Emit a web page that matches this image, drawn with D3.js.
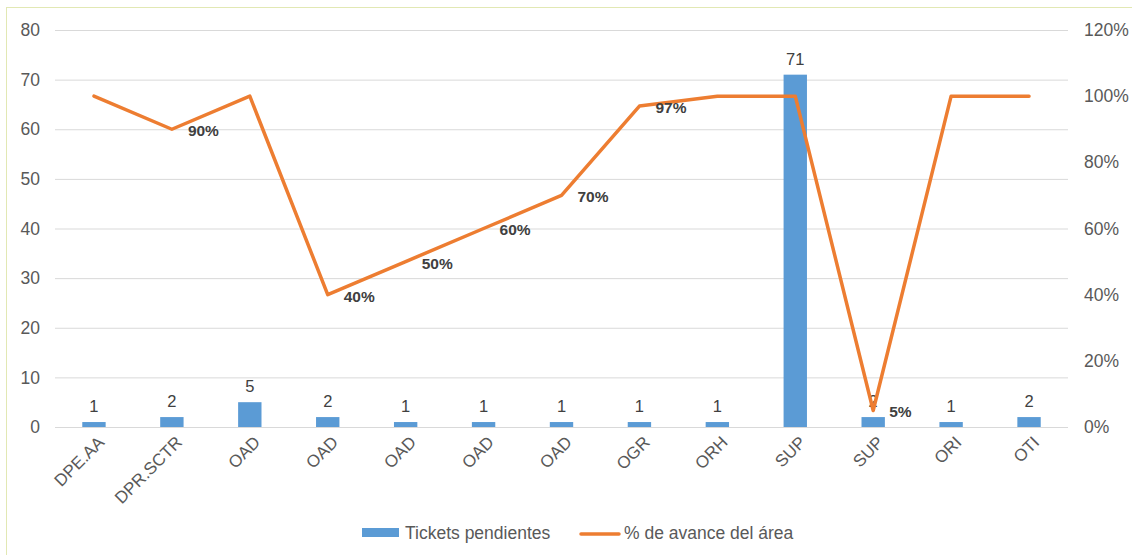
<!DOCTYPE html>
<html>
<head>
<meta charset="utf-8">
<script src="https://cdn.jsdelivr.net/npm/d3@7"></script>
<style>
  body { margin: 0; background: #fff; }
  svg { display: block; font-family: "Liberation Sans", Arial, sans-serif; }
</style>
</head>
<body>
<div id="chart"></div>
<script>
// Data
const categories = ['DPE.AA', 'DPR.SCTR', 'OAD', 'OAD', 'OAD', 'OAD', 'OAD', 'OGR', 'ORH', 'SUP', 'SUP', 'ORI', 'OTI'];
const tickets = [1, 2, 5, 2, 1, 1, 1, 1, 1, 71, 2, 1, 2];
const avance = [1.00, 0.90, 1.00, 0.40, 0.50, 0.60, 0.70, 0.97, 1.00, 1.00, 0.05, 1.00, 1.00];
const leftTicks = [0, 10, 20, 30, 40, 50, 60, 70, 80];
const rightTicks = [0, 0.2, 0.4, 0.6, 0.8, 1.0, 1.2];

const width = 1132, height = 555;
const margin = { top: 30, right: 64, bottom: 128, left: 55 };

const svg = d3.select('#chart').append('svg')
    .attr('width', width)
    .attr('height', height);

// chart frame (only top/left visible in the picture)
svg.append('rect')
    .attr('x', 6.5).attr('y', 7.5)
    .attr('width', width + 20).attr('height', height + 20)
    .attr('fill', 'none')
    .attr('stroke', '#e2e8b4');

const x = d3.scaleBand()
    .domain(d3.range(categories.length))
    .range([margin.left, width - margin.right])
    .paddingInner(0.7).paddingOuter(0.35);

const xc = i => x(i) + x.bandwidth() / 2;

const y = d3.scaleLinear().domain([0, 80]).range([height - margin.bottom, margin.top]);
const y2 = d3.scaleLinear().domain([0, 1.2]).range([height - margin.bottom, margin.top]);

// gridlines
svg.append('g')
    .selectAll('line')
    .data(leftTicks)
    .join('line')
    .attr('x1', margin.left).attr('x2', width - margin.right)
    .attr('y1', d => y(d) + 0.5).attr('y2', d => y(d) + 0.5)
    .attr('stroke', '#d9d9d9')
    .attr('stroke-width', 1);

// left axis labels
svg.append('g')
    .selectAll('text')
    .data(leftTicks)
    .join('text')
    .attr('x', 40).attr('y', d => y(d))
    .attr('dy', '0.35em')
    .attr('text-anchor', 'end')
    .attr('fill', '#595959')
    .attr('font-size', 17.5)
    .text(d => d);

// right axis labels
svg.append('g')
    .selectAll('text')
    .data(rightTicks)
    .join('text')
    .attr('x', 1084).attr('y', d => y2(d))
    .attr('dy', '0.35em')
    .attr('fill', '#595959')
    .attr('font-size', 17.5)
    .text(d => d3.format('.0%')(d));

// bars
svg.append('g')
    .selectAll('rect')
    .data(tickets)
    .join('rect')
    .attr('x', (d, i) => x(i))
    .attr('y', d => y(d))
    .attr('width', x.bandwidth())
    .attr('height', d => y(0) - y(d))
    .attr('fill', '#5b9bd5');

// bar labels
svg.append('g')
    .selectAll('text')
    .data(tickets)
    .join('text')
    .attr('x', (d, i) => xc(i))
    .attr('y', d => y(d) - 10)
    .attr('text-anchor', 'middle')
    .attr('fill', '#404040')
    .attr('font-size', 16.5)
    .text(d => d);

// x labels
svg.append('g')
    .selectAll('text')
    .data(categories)
    .join('text')
    .attr('transform', (d, i) => `translate(${xc(i) + 3},${y(0) + 8}) rotate(-45)`)
    .attr('text-anchor', 'end')
    .attr('dy', '0.7em')
    .attr('fill', '#595959')
    .attr('font-size', 17)
    .text(d => d);

// line
const line = d3.line()
    .x((d, i) => xc(i))
    .y(d => y2(d));

svg.append('path')
    .datum(avance)
    .attr('d', line)
    .attr('fill', 'none')
    .attr('stroke', '#ed7d31')
    .attr('stroke-width', 3.5)
    .attr('stroke-linecap', 'round')
    .attr('stroke-linejoin', 'round');

// line labels (only points below 100%)
svg.append('g')
    .selectAll('text')
    .data(avance.map((v, i) => ({ v, i })).filter(d => d.v < 1))
    .join('text')
    .attr('x', d => xc(d.i) + 16)
    .attr('y', d => y2(d.v) + 1.5)
    .attr('dy', '0.35em')
    .attr('fill', '#404040')
    .attr('font-size', 15.5)
    .attr('font-weight', 'bold')
    .text(d => d3.format('.0%')(d.v));

// legend
const legend = svg.append('g');
legend.append('rect')
    .attr('x', 362).attr('y', 528)
    .attr('width', 37).attr('height', 9)
    .attr('fill', '#5b9bd5');
legend.append('text')
    .attr('x', 405).attr('y', 533)
    .attr('dy', '0.35em')
    .attr('fill', '#595959')
    .attr('font-size', 17.5)
    .text('Tickets pendientes');
legend.append('line')
    .attr('x1', 581).attr('x2', 619)
    .attr('y1', 534).attr('y2', 534)
    .attr('stroke', '#ed7d31')
    .attr('stroke-width', 3.5)
    .attr('stroke-linecap', 'round');
legend.append('text')
    .attr('x', 624).attr('y', 533)
    .attr('dy', '0.35em')
    .attr('fill', '#595959')
    .attr('font-size', 17.5)
    .text('% de avance del área');
</script>
</body>
</html>
